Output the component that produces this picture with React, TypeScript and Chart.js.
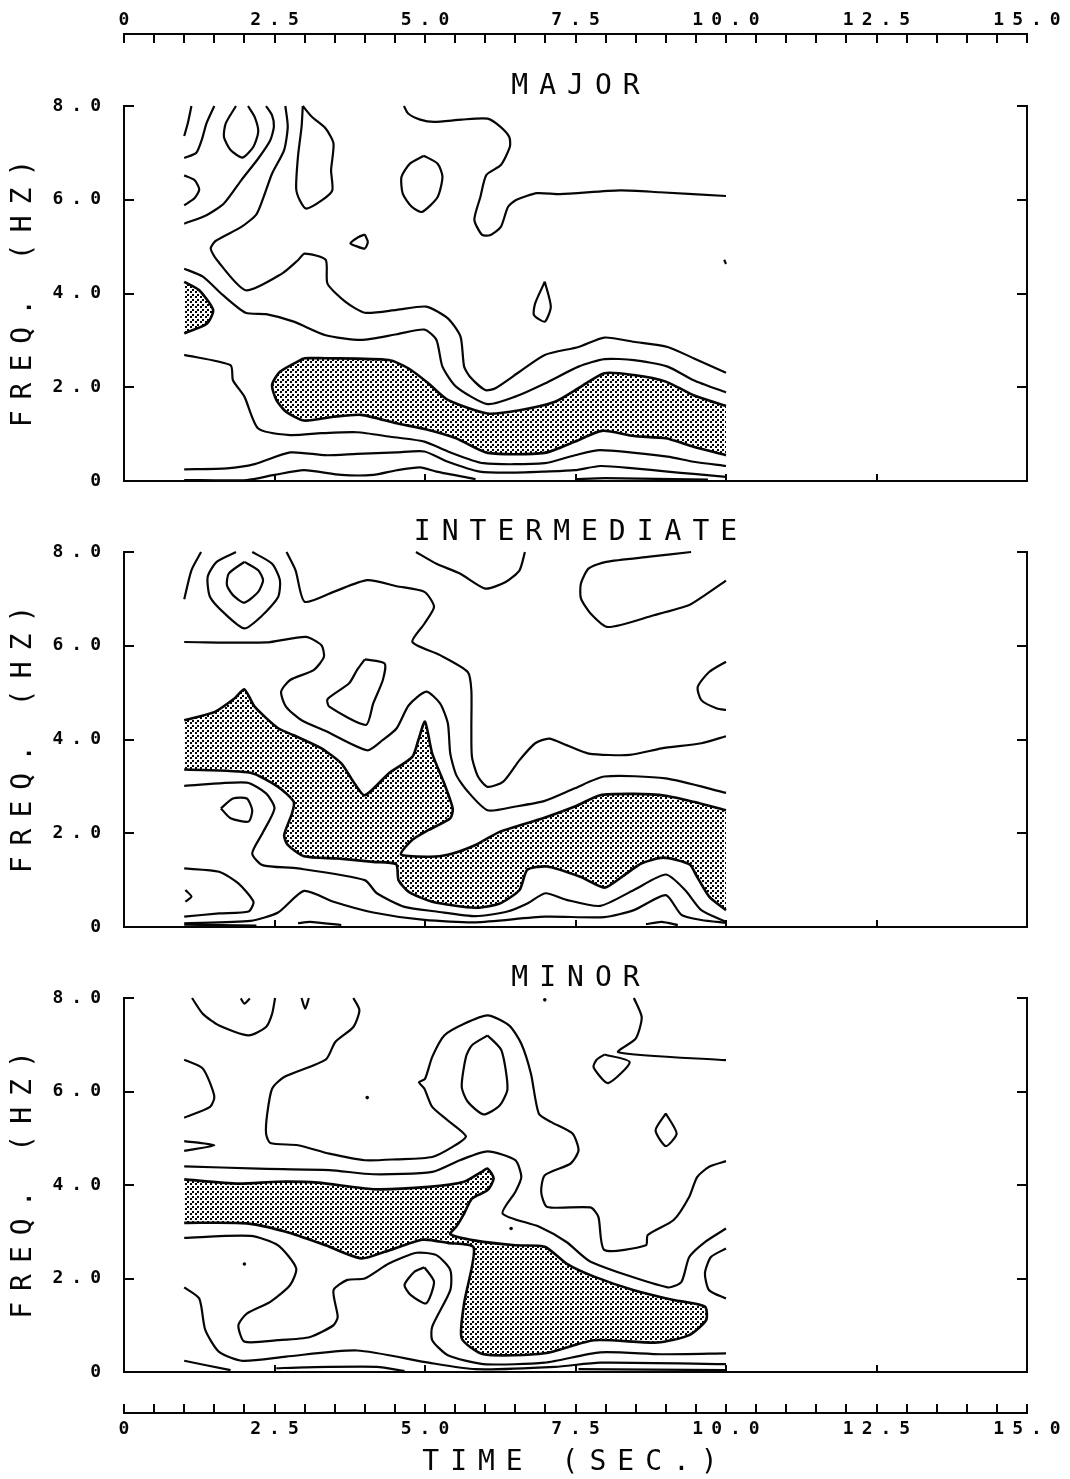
import React, { useEffect, useRef } from "react";
import { Chart, registerables } from "chart.js";

Chart.register(...registerables);

// ---------- axis values ----------
const timeMin = 0;
const timeMax = 15;
const freqMin = 0;
const freqMax = 8;
const gridEdgeTimes = [1, 10];
const panelTitles = ["MAJOR", "INTERMEDIATE", "MINOR"];
const yAxisTitle = "FREQ. (HZ)";
const xAxisTitle = "TIME (SEC.)";

// ---------- MAJOR contours (seconds / Hz) ----------
const maj1T = [1.12, 1.06, 1.0];
const maj1F = [8, 7.63, 7.36];
const maj2T = [1.5, 1.37, 1.29, 1.2, 1.0];
const maj2F = [8, 7.63, 7.27, 7.0, 6.89];
const maj3T = [1.86, 1.69, 1.66, 1.77, 1.97, 2.15, 2.23, 2.17, 2.06];
const maj3F = [8, 7.63, 7.34, 7.06, 6.9, 7.13, 7.45, 7.77, 8];
const maj4T = [1.0, 1.17, 1.25, 1.17, 1.0];
const maj4F = [6.52, 6.42, 6.22, 6.03, 5.88];
const maj5T = [1.0, 1.37, 1.66, 1.95, 2.23, 2.43, 2.49, 2.46, 2.36];
const maj5F = [5.49, 5.67, 5.92, 6.42, 6.88, 7.27, 7.56, 7.8, 8];
const maj6T = [2.68, 2.72, 2.66, 2.46, 2.32, 2.2, 1.95, 1.52, 1.44, 1.54, 2.02, 2.63, 2.89, 3.0, 3.35, 3.38, 3.68, 4.0, 4.53, 5.02, 5.38, 5.59, 5.65, 5.75, 6.0, 6.17, 6.57, 6.99, 7.55, 7.98, 8.47, 9.03, 9.46, 10];
const maj6F = [8, 7.56, 7.06, 6.56, 6.06, 5.69, 5.42, 5.12, 4.96, 4.72, 4.07, 4.43, 4.71, 4.85, 4.72, 4.21, 3.82, 3.59, 3.65, 3.72, 3.47, 3.08, 2.44, 2.22, 1.94, 1.98, 2.33, 2.69, 2.86, 3.06, 2.97, 2.86, 2.62, 2.31];
const maj7T = [2.97, 3.12, 3.35, 3.48, 3.44, 3.46, 3.29, 3.03, 2.92, 2.86, 2.89, 2.95, 2.97];
const maj7F = [8, 7.77, 7.52, 7.2, 6.63, 6.2, 5.99, 5.81, 5.99, 6.24, 6.92, 7.56, 8];
const maj8T = [4.98, 4.75, 4.61, 4.63, 4.78, 4.95, 5.21, 5.29, 5.21, 4.98];
const maj8F = [6.94, 6.77, 6.49, 6.13, 5.85, 5.74, 6.06, 6.49, 6.77, 6.94];
const maj9T = [4.0, 4.05, 4.0, 3.86, 3.76, 3.89, 4.0];
const maj9F = [5.26, 5.1, 4.96, 5.01, 5.07, 5.2, 5.26];
const maj10T = [4.65, 4.72, 4.92, 5.15, 5.61, 6.04, 6.24, 6.4, 6.41, 6.26, 6.02, 5.92, 5.82, 5.95, 6.09, 6.26, 6.38, 6.52, 6.86, 7.24, 8.24, 8.9, 10];
const maj10F = [8, 7.84, 7.71, 7.66, 7.71, 7.73, 7.57, 7.34, 7.13, 6.74, 6.53, 6.06, 5.57, 5.25, 5.25, 5.42, 5.85, 6.0, 6.14, 6.12, 6.2, 6.16, 6.08];
const maj11T = [6.99, 6.83, 6.81, 6.99, 7.09, 6.99];
const maj11F = [4.25, 3.79, 3.54, 3.4, 3.72, 4.25];
const maj12T = [9.97, 10.0];
const maj12F = [4.72, 4.63];
const maj13T = [1.0, 1.31, 1.64, 2.02, 2.36, 2.82, 3.35, 3.94, 4.53, 4.99, 5.19, 5.29, 5.52, 6.04, 6.5, 6.99, 7.55, 7.98, 8.47, 9.03, 9.46, 10];
const maj13F = [4.53, 4.36, 3.97, 3.59, 3.56, 3.4, 3.11, 3.01, 3.13, 3.23, 3.01, 2.44, 2.01, 1.64, 1.8, 2.08, 2.44, 2.6, 2.58, 2.44, 2.15, 1.89];
const maj14T = [1.0, 1.77, 1.81, 2.0, 2.23, 2.76, 3.28, 3.87, 4.4, 4.99, 5.38, 5.97, 6.99, 7.49, 7.91, 9.03, 9.46, 10];
const maj14F = [2.69, 2.47, 2.15, 1.8, 1.12, 0.98, 1.02, 1.04, 0.95, 0.84, 0.63, 0.38, 0.38, 0.55, 0.66, 0.52, 0.41, 0.32];
const maj15T = [1.0, 1.71, 2.17, 2.76, 3.35, 3.87, 4.53, 4.99, 5.38, 5.91, 6.5, 6.99, 7.49, 7.91, 8.47, 9.03, 9.46, 10];
const maj15F = [0.25, 0.27, 0.36, 0.61, 0.55, 0.58, 0.61, 0.63, 0.41, 0.2, 0.18, 0.2, 0.23, 0.32, 0.27, 0.2, 0.15, 0.09];
const maj16T = [1.0, 2.04, 2.5, 2.99, 3.61, 4.14, 4.53, 4.92, 5.19, 5.84];
const maj16F = [0.02, 0.02, 0.13, 0.23, 0.13, 0.13, 0.23, 0.29, 0.2, 0.04];
const maj17T = [7.5, 8.0, 9.7];
const maj17F = [0.04, 0.06, 0.03];
const majShadeAT = [1.0, 1.25, 1.48, 1.38, 1.0];
const majShadeAF = [4.25, 4.07, 3.65, 3.36, 3.15];
const majShadeBT = [2.99, 3.35, 4.4, 4.73, 5.06, 5.38, 6.04, 6.57, 7.16, 7.55, 7.98, 8.47, 9.0, 9.46, 10, 10, 9.46, 9.0, 8.47, 7.94, 7.49, 6.99, 6.04, 5.52, 5.06, 4.53, 3.94, 3.48, 2.99, 2.69, 2.53, 2.46, 2.59, 2.99];
const majShadeBF = [2.62, 2.62, 2.58, 2.4, 2.08, 1.73, 1.44, 1.51, 1.69, 1.98, 2.3, 2.26, 2.12, 1.83, 1.6, 0.55, 0.73, 0.91, 0.96, 1.07, 0.84, 0.6, 0.6, 0.91, 1.09, 1.23, 1.41, 1.37, 1.29, 1.48, 1.73, 2.05, 2.33, 2.62];

// ---------- INTERMEDIATE contours ----------
const int1T = [1.28, 1.12, 1.0];
const int1F = [8, 7.61, 6.99];
const int2T = [1.86, 1.54, 1.39, 1.43, 1.67, 2.0, 2.3, 2.56, 2.59, 2.46, 2.13];
const int2F = [8, 7.79, 7.47, 7.04, 6.69, 6.37, 6.65, 7.04, 7.4, 7.75, 8];
const int3T = [2.0, 1.74, 1.71, 1.81, 2.0, 2.23, 2.31, 2.23, 2.0];
const int3F = [7.79, 7.54, 7.29, 7.08, 6.92, 7.15, 7.4, 7.61, 7.79];
const int4T = [2.7, 2.85, 3.0, 3.48, 4.04, 4.53, 4.99, 5.15, 4.99, 4.79, 5.25, 5.71, 5.77, 5.77, 5.78, 5.88, 6.04, 6.3, 6.57, 6.83, 7.06, 7.35, 7.72, 8.4, 8.93, 9.59, 10];
const int4F = [8, 7.61, 6.94, 7.15, 7.4, 7.27, 7.15, 6.83, 6.47, 6.08, 5.8, 5.44, 5.05, 4.24, 3.63, 3.21, 2.99, 3.1, 3.56, 3.92, 4.02, 3.88, 3.7, 3.67, 3.81, 3.92, 4.07];
const int5T = [4.85, 5.19, 5.58, 6.0, 6.34, 6.57, 6.66];
const int5F = [8, 7.75, 7.54, 7.22, 7.36, 7.61, 8];
const int6T = [9.42, 8.73, 8.01, 7.72, 7.59, 7.59, 7.75, 8.04, 8.8, 9.39, 9.65, 10];
const int6F = [8, 7.9, 7.79, 7.65, 7.33, 7.01, 6.69, 6.4, 6.65, 6.87, 7.08, 7.39];
const int7T = [10, 9.72, 9.53, 9.59, 9.85, 10];
const int7F = [5.66, 5.44, 5.12, 4.84, 4.66, 4.63];
const int8T = [1.0, 2.36, 3.02, 3.28, 3.32, 3.15, 2.76, 2.61, 2.69, 2.95, 3.35, 4.04, 4.3, 4.53, 4.73, 5.02, 5.25, 5.38, 5.42, 5.52, 5.71, 6.04, 6.5, 6.99, 7.49, 7.98, 9.0, 10];
const int8F = [6.08, 6.07, 6.19, 6.01, 5.76, 5.48, 5.27, 5.02, 4.7, 4.41, 4.18, 3.77, 3.99, 4.24, 4.73, 5.02, 4.77, 4.34, 3.7, 3.24, 2.89, 2.49, 2.57, 2.69, 2.96, 3.21, 3.17, 2.86];
const int9T = [4.0, 4.33, 4.3, 4.14, 4.02, 3.41, 3.38, 3.74, 3.87, 4.0];
const int9F = [5.71, 5.62, 5.27, 4.77, 4.31, 4.7, 4.86, 5.2, 5.48, 5.71];
const int10T = [1.0, 2.04, 2.36, 2.5, 2.3, 2.13, 2.3, 2.89, 4.0, 4.2, 4.66, 5.19, 5.84, 6.37, 6.7, 7.0, 7.35, 7.91, 8.47, 9.0, 9.32, 9.59, 10];
const int10F = [3.01, 3.08, 2.85, 2.53, 2.0, 1.57, 1.32, 1.25, 1.0, 0.72, 0.43, 0.33, 0.23, 0.33, 0.5, 0.72, 0.58, 0.45, 0.79, 1.12, 0.79, 0.36, 0.11];
const int11T = [1.61, 1.81, 2.04, 2.13, 2.07, 1.77, 1.61];
const int11F = [2.53, 2.74, 2.74, 2.49, 2.25, 2.32, 2.53];
const int12T = [1.0, 1.58, 1.9, 2.15, 2.07, 1.58, 1.0];
const int12F = [1.25, 1.18, 0.93, 0.54, 0.33, 0.29, 0.22];
const int13T = [1.02, 1.12, 1.02];
const int13F = [0.79, 0.65, 0.54];
const int14T = [1.0, 2.1, 2.56, 2.99, 3.48, 4.14, 4.99, 5.84, 6.99, 7.98, 8.47, 9.0, 9.26, 9.59, 10];
const int14F = [0.08, 0.13, 0.31, 0.77, 0.54, 0.31, 0.15, 0.1, 0.22, 0.21, 0.36, 0.68, 0.26, 0.15, 0.09];
const int15T = [2.89, 3.09, 3.61];
const int15F = [0.08, 0.11, 0.04];
const int16T = [8.67, 8.93, 9.2];
const int16F = [0.06, 0.11, 0.04];
const int17T = [1.0, 2.2];
const int17F = [0.05, 0.03];
const intShadeT = [1.0, 1.51, 1.84, 2.0, 2.17, 2.56, 2.82, 3.28, 3.61, 3.81, 4.0, 4.4, 4.79, 4.89, 5.0, 5.12, 5.32, 5.46, 5.42, 5.06, 4.79, 4.6, 5.06, 5.38, 5.84, 6.24, 6.96, 7.49, 7.91, 8.47, 9.0, 9.46, 10, 10, 9.72, 9.52, 9.39, 8.96, 8.6, 8.27, 7.98, 7.58, 7.03, 6.7, 6.57, 6.24, 5.84, 5.12, 4.73, 4.56, 4.52, 4.14, 3.55, 2.99, 2.72, 2.66, 2.79, 2.82, 2.56, 2.1, 1.0];
const intShadeF = [4.41, 4.59, 4.88, 5.07, 4.7, 4.24, 4.09, 3.81, 3.49, 3.1, 2.81, 3.28, 3.63, 3.99, 4.38, 3.7, 3.06, 2.53, 2.32, 2.07, 1.86, 1.55, 1.5, 1.54, 1.75, 2.03, 2.32, 2.57, 2.81, 2.84, 2.8, 2.67, 2.49, 0.36, 0.65, 1.07, 1.34, 1.48, 1.36, 1.07, 0.84, 1.07, 1.29, 1.22, 0.79, 0.5, 0.41, 0.54, 0.75, 1.0, 1.34, 1.39, 1.46, 1.51, 1.75, 1.96, 2.42, 2.67, 2.99, 3.29, 3.36];

// ---------- MINOR contours ----------
const min1T = [1.13, 1.31, 1.58, 2.07, 2.36, 2.46, 2.51];
const min1F = [8, 7.66, 7.41, 7.2, 7.38, 7.66, 8];
const min2T = [1.94, 2.0, 2.09];
const min2F = [7.99, 7.88, 7.99];
const min3T = [2.95, 3.01, 3.07];
const min3F = [8, 7.77, 8];
const min4T = [3.81, 3.91, 3.81, 3.51, 3.35, 2.66, 2.46, 2.38, 2.36, 2.43, 2.89, 3.41, 4.0, 4.53, 5.12, 5.45, 5.68, 5.38, 5.12, 4.99, 4.9, 5.0, 5.12, 5.32, 5.65, 6.04, 6.4, 6.6, 6.76, 6.89, 7.09, 7.45, 7.55, 7.42, 6.99, 6.93, 7.03, 7.75, 7.88, 7.98, 8.67, 8.7, 9.13, 9.39, 9.52, 9.72, 10];
const min4F = [8, 7.74, 7.38, 7.06, 6.68, 6.31, 6.06, 5.53, 5.1, 4.9, 4.85, 4.67, 4.53, 4.55, 4.6, 4.81, 5.04, 5.38, 5.67, 6.06, 6.2, 6.27, 6.74, 7.2, 7.45, 7.63, 7.41, 7.02, 6.38, 5.53, 5.35, 5.1, 4.74, 4.46, 4.21, 3.85, 3.53, 3.52, 3.32, 2.61, 2.71, 2.93, 3.25, 3.75, 4.17, 4.39, 4.51];
const min5T = [6.04, 5.78, 5.68, 5.61, 5.71, 5.97, 6.24, 6.37, 6.27, 6.04];
const min5F = [7.2, 6.99, 6.74, 6.1, 5.78, 5.51, 5.7, 6.06, 6.88, 7.2];
const min6T = [8.47, 8.6, 8.5, 8.21, 10];
const min6F = [8, 7.59, 7.13, 6.84, 6.67];
const min7T = [7.98, 8.4, 8.04, 7.8, 7.85, 7.98];
const min7F = [6.79, 6.63, 6.18, 6.52, 6.68, 6.79];
const min8T = [9.0, 9.18, 9.0, 8.83, 9.0];
const min8F = [5.53, 5.1, 4.83, 5.17, 5.53];
const min9T = [1.0, 1.31, 1.5, 1.43, 1.0];
const min9F = [6.68, 6.49, 5.9, 5.67, 5.44];
const min10T = [1.0, 1.5, 1.0];
const min10F = [4.94, 4.85, 4.73];
const min12T = [1.0, 2.23, 3.41, 4.14, 5.12, 5.58, 6.04, 6.5, 6.6, 6.5, 6.29, 6.89, 7.35, 7.75, 9.03, 9.26, 9.39, 9.65, 10];
const min12F = [4.4, 4.35, 4.32, 4.23, 4.28, 4.53, 4.72, 4.53, 4.17, 3.85, 3.39, 3.11, 2.78, 2.36, 1.81, 1.93, 2.46, 2.78, 3.07];
const min14T = [1.0, 2.1, 2.56, 2.86, 2.76, 2.43, 2.04, 1.9, 2.0, 2.56, 3.09, 3.48, 3.55, 3.48, 3.71, 4.0, 4.4, 4.86, 5.19, 5.42, 5.42, 5.12, 5.12, 5.38, 5.97, 6.99, 7.91, 8.93, 10];
const min14F = [2.87, 2.91, 2.71, 2.22, 1.86, 1.5, 1.25, 1.0, 0.65, 0.68, 0.75, 1.0, 1.18, 1.75, 1.97, 2.0, 2.32, 2.55, 2.5, 2.18, 1.75, 0.97, 0.68, 0.36, 0.17, 0.2, 0.42, 0.38, 0.4];
const min15T = [1.0, 1.25, 1.35, 1.58, 1.97, 2.69, 3.87, 5.06, 5.84, 7.16, 7.91, 10];
const min15F = [1.81, 1.57, 0.9, 0.43, 0.24, 0.33, 0.46, 0.2, 0.06, 0.11, 0.2, 0.17];
const min16T = [1.0, 1.77];
const min16F = [0.24, 0.04];
const min17T = [2.53, 3.0, 4.2, 4.66];
const min17F = [0.08, 0.1, 0.11, 0.02];
const min18T = [4.99, 5.15, 5.02, 4.76, 4.66, 4.82, 4.99];
const min18F = [2.24, 1.93, 1.47, 1.65, 1.86, 2.14, 2.24];
const min19T = [10, 9.75, 9.65, 9.72, 10];
const min19F = [2.64, 2.46, 2.11, 1.75, 1.57];
const min20T = [7.55, 10];
const min20F = [0.06, 0.04];
const minSpecksT = [4.04, 2.0, 6.99, 6.43];
const minSpecksF = [5.87, 2.31, 7.96, 3.07];
const minShadeT = [1.0, 1.9, 2.56, 3.22, 4.14, 5.06, 5.65, 5.94, 6.04, 6.14, 6.04, 5.78, 5.65, 5.52, 5.42, 5.84, 6.5, 6.99, 7.35, 7.81, 8.47, 9.13, 9.65, 9.67, 9.39, 8.86, 7.81, 6.99, 5.97, 5.61, 5.65, 5.81, 5.38, 4.96, 4.33, 3.94, 3.35, 2.69, 2.04, 1.0];
const minShadeF = [4.12, 4.03, 4.07, 4.05, 3.91, 3.96, 4.07, 4.28, 4.35, 4.14, 3.89, 3.71, 3.39, 3.11, 2.95, 2.81, 2.71, 2.68, 2.32, 2.04, 1.75, 1.54, 1.4, 1.11, 0.79, 0.63, 0.68, 0.4, 0.38, 0.72, 1.47, 2.66, 2.76, 2.83, 2.57, 2.43, 2.71, 3.0, 3.18, 3.19];

const majorLines = [[maj1T, maj1F], [maj2T, maj2F], [maj3T, maj3F], [maj4T, maj4F], [maj5T, maj5F], [maj6T, maj6F], [maj7T, maj7F], [maj8T, maj8F], [maj9T, maj9F], [maj10T, maj10F], [maj11T, maj11F], [maj12T, maj12F], [maj13T, maj13F], [maj14T, maj14F], [maj15T, maj15F], [maj16T, maj16F], [maj17T, maj17F]];
const majorShades = [[majShadeAT, majShadeAF], [majShadeBT, majShadeBF]];
const intermediateLines = [[int1T, int1F], [int2T, int2F], [int3T, int3F], [int4T, int4F], [int5T, int5F], [int6T, int6F], [int7T, int7F], [int8T, int8F], [int9T, int9F], [int10T, int10F], [int11T, int11F], [int12T, int12F], [int13T, int13F], [int14T, int14F], [int15T, int15F], [int16T, int16F], [int17T, int17F]];
const intermediateShades = [[intShadeT, intShadeF]];
const minorLines = [[min1T, min1F], [min2T, min2F], [min3T, min3F], [min4T, min4F], [min5T, min5F], [min6T, min6F], [min7T, min7F], [min8T, min8F], [min9T, min9F], [min10T, min10F], [min12T, min12F], [min14T, min14F], [min15T, min15F], [min16T, min16F], [min17T, min17F], [min18T, min18F], [min19T, min19F], [min20T, min20F]];
const minorShades = [[minShadeT, minShadeF]];
const minorSpecks = [[minSpecksT, minSpecksF]];

const panelLines = [majorLines, intermediateLines, minorLines];
const panelShades = [majorShades, intermediateShades, minorShades];
const panelSpecks = [[], [], minorSpecks];

// ---------- styling / layout ----------
const INK = "#060606";
const CLEAR = "rgba(0,0,0,0)";
const TICK_FONT = { family: "'DejaVu Sans Mono'", size: 18, weight: "bold" as const, lineHeight: "22px" };
const LABEL_FONT = { family: "'DejaVu Sans Mono'", size: 28, weight: "normal" as const, lineHeight: "31px" };
const PAGE_W = 1070;
const AXIS_LEFT = 124;
const AXIS_RIGHT_GAP = 43;
const PANEL_TOPS = [106, 552, 998];
const PANEL_BOTTOMS = [481, 927, 1372];
const TITLE_SPACE = 40;
const BELOW_SPACE = 20;

// Chart.js has no letter-spacing option; the reference's wide-set lettering is
// reproduced by tying ctx.letterSpacing to the font that Chart.js selects, and
// discounting the trailing space from centred and right-aligned text.
function spaceLetters(ctx: any) {
  const d = Object.getOwnPropertyDescriptor(CanvasRenderingContext2D.prototype, "font")!;
  Object.defineProperty(ctx, "font", {
    configurable: true,
    get() { return d.get!.call(this); },
    set(v: string) {
      d.set!.call(this, v);
      this.letterSpacing = v.includes("bold") ? "8px" : "11px";
    },
  });
  const fill = CanvasRenderingContext2D.prototype.fillText;
  ctx.fillText = function (t: string, x: number, y: number, m?: number) {
    const ls = parseFloat(this.letterSpacing) || 0;
    const dx = this.textAlign === "center" ? ls / 2 : this.textAlign === "right" ? ls : 0;
    if (m === undefined) fill.call(this, t, x + dx, y);
    else fill.call(this, t, x + dx, y, m);
  };
}

function stipple(): CanvasPattern {
  const tile = document.createElement("canvas");
  tile.width = 5;
  tile.height = 5;
  const c = tile.getContext("2d")!;
  c.fillStyle = "#000";
  c.fillRect(0, 0, 2, 2);
  c.fillRect(2, 3, 2, 2);
  return c.createPattern(tile, "repeat")!;
}

const zip = (t: number[], f: number[]) => t.map((x, i) => ({ x, y: f[i] }));
// Doubling a vertex on the edge of the analysed time range keeps the spline from
// bulging past that edge where an outline meets it.
const zipEdgesSharp = (t: number[], f: number[]) =>
  zip(t, f).flatMap((p) => (gridEdgeTimes.includes(p.x) ? [p, p] : [p]));

const noPadding = (s: any) => {
  s.paddingLeft = 0;
  s.paddingRight = 0;
  s.paddingTop = 0;
  s.paddingBottom = 0;
};

const hiddenY = { display: false, min: freqMin, max: freqMax };

function stripOptions(position: "top" | "bottom"): any {
  const isTop = position === "top";
  return {
    responsive: false,
    animation: false,
    events: [],
    layout: { padding: { left: AXIS_LEFT, right: AXIS_RIGHT_GAP, top: 0, bottom: 0 } },
    plugins: { legend: { display: false }, tooltip: { enabled: false } },
    scales: {
      x: {
        type: "linear",
        position,
        min: timeMin,
        max: timeMax,
        afterFit: (s: any) => { s.height = isTop ? 34 : 66; noPadding(s); },
        border: { display: true, color: INK, width: 2 },
        grid: { drawOnChartArea: false, drawTicks: true, tickLength: -9, color: INK, lineWidth: 2 },
        title: isTop ? { display: false } : {
          display: true, text: xAxisTitle, color: INK, font: LABEL_FONT, padding: { top: 0, bottom: 1 },
        },
        ticks: {
          stepSize: 0.5,
          autoSkip: false,
          maxRotation: 0,
          color: INK,
          font: TICK_FONT,
          padding: isTop ? 12 : 14,
          callback: (v: number) => (v % 2.5 === 0 ? (v === 0 ? "0" : v.toFixed(1)) : ""),
        },
      },
      y: hiddenY,
    },
  };
}

function panelOptions(i: number): any {
  return {
    responsive: false,
    animation: false,
    events: [],
    layout: { padding: 0 },
    plugins: {
      legend: { display: false },
      tooltip: { enabled: false },
      title: {
        display: true,
        fullSize: false,
        text: panelTitles[i],
        color: INK,
        font: LABEL_FONT,
        padding: { top: 5, bottom: 4 },
      },
    },
    scales: {
      x: {
        type: "linear",
        min: timeMin,
        max: timeMax,
        afterFit: (s: any) => { s.height = BELOW_SPACE; noPadding(s); },
        border: { display: true, color: INK, width: 2 },
        grid: { drawOnChartArea: false, drawTicks: true, tickLength: -7, color: INK, lineWidth: 2 },
        ticks: { stepSize: 2.5, display: false },
      },
      y: {
        type: "linear",
        position: "left",
        min: freqMin,
        max: freqMax,
        afterFit: (s: any) => { s.width = AXIS_LEFT; noPadding(s); },
        border: { display: true, color: INK, width: 2 },
        grid: { drawOnChartArea: false, drawTicks: true, tickLength: -10, color: INK, lineWidth: 2 },
        title: { display: true, text: yAxisTitle, color: INK, font: LABEL_FONT, padding: { top: 8, bottom: 0 } },
        ticks: {
          stepSize: 2,
          color: INK,
          font: TICK_FONT,
          padding: 25,
          callback: (v: number) => (v === 0 ? "0" : v.toFixed(1)),
        },
      },
      yRight: {
        type: "linear",
        position: "right",
        min: freqMin,
        max: freqMax,
        afterFit: (s: any) => { s.width = AXIS_RIGHT_GAP; noPadding(s); },
        border: { display: true, color: INK, width: 2 },
        grid: { drawOnChartArea: false, drawTicks: true, tickLength: -10, color: INK, lineWidth: 2 },
        ticks: { stepSize: 2, display: false },
      },
    },
  };
}

// Chart.js paints the last dataset first, so the stipple goes at the end of the list.
function panelDatasets(i: number, pattern: CanvasPattern): any[] {
  const base = { showLine: true, pointRadius: 0, tension: 0.22, clip: 3 };
  const fills = panelShades[i].map(([t, f]) => ({
    ...base,
    data: zipEdgesSharp(t as number[], f as number[]),
    borderColor: CLEAR,
    borderWidth: 1,
    fill: "shape",
    backgroundColor: pattern,
  }));
  const outlines = panelShades[i].map(([t, f]) => ({
    ...base,
    data: zipEdgesSharp(t as number[], f as number[]),
    borderColor: INK,
    borderWidth: 2.6,
    fill: false,
    segment: {
      // the open side of a shaded region, along the end of the analysed range, has no outline
      borderColor: (c: any) =>
        c.p0.parsed.x === c.p1.parsed.x && gridEdgeTimes.includes(c.p0.parsed.x) ? CLEAR : undefined,
    },
  }));
  const lines = panelLines[i].map(([t, f]) => ({
    ...base,
    data: zip(t as number[], f as number[]),
    borderColor: INK,
    borderWidth: 2.2,
    fill: false,
  }));
  const specks = panelSpecks[i].map(([t, f]) => ({
    data: zip(t as number[], f as number[]),
    showLine: false,
    pointRadius: 1.8,
    pointBackgroundColor: INK,
    pointBorderWidth: 0,
  }));
  return [...specks, ...lines, ...outlines, ...fills];
}

export default function App() {
  const topRef = useRef<HTMLCanvasElement>(null);
  const p0 = useRef<HTMLCanvasElement>(null);
  const p1 = useRef<HTMLCanvasElement>(null);
  const p2 = useRef<HTMLCanvasElement>(null);
  const botRef = useRef<HTMLCanvasElement>(null);

  useEffect(() => {
    const make = (cv: HTMLCanvasElement, cfg: any) => {
      const ctx = cv.getContext("2d")!;
      spaceLetters(ctx);
      return new Chart(ctx, cfg);
    };
    const pattern = stipple();
    const charts = [
      make(topRef.current!, { type: "scatter", data: { datasets: [] }, options: stripOptions("top") }),
      ...[p0, p1, p2].map((r, i) =>
        make(r.current!, { type: "scatter", data: { datasets: panelDatasets(i, pattern) }, options: panelOptions(i) })
      ),
      make(botRef.current!, { type: "scatter", data: { datasets: [] }, options: stripOptions("bottom") }),
    ];
    return () => charts.forEach((c) => c.destroy());
  }, []);

  const abs = (top: number): React.CSSProperties => ({ position: "absolute", left: 0, top, display: "block" });
  return (
    <div style={{ position: "absolute", left: 0, top: 0, width: PAGE_W, height: 1479, background: "#fff", overflow: "hidden" }}>
      <canvas ref={topRef} width={PAGE_W} height={60} style={abs(0)} />
      {[p0, p1, p2].map((r, i) => (
        <canvas
          key={i}
          ref={r}
          width={PAGE_W}
          height={PANEL_BOTTOMS[i] - PANEL_TOPS[i] + TITLE_SPACE + BELOW_SPACE}
          style={abs(PANEL_TOPS[i] - TITLE_SPACE)}
        />
      ))}
      <canvas ref={botRef} width={PAGE_W} height={86} style={abs(1393)} />
    </div>
  );
}
